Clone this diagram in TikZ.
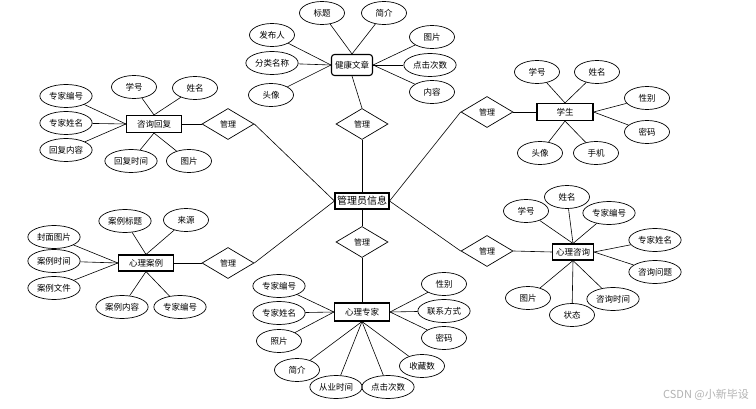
\documentclass[tikz,border=0pt]{standalone}
\usepackage{fontspec}
\setmainfont{Noto Sans CJK SC}
\usepackage{tikz}
\usetikzlibrary{shapes.geometric}

\tikzset{
  attr/.style={shape=ellipse,draw=black,line width=0.7pt,minimum width=45pt,minimum height=23pt,inner sep=1.5pt,font=\fontsize{8.5}{10}\selectfont},
  ent/.style={shape=rectangle,draw=black,line width=1.1pt,minimum width=55pt,minimum height=17pt,inner sep=1pt,font=\fontsize{8.5}{10}\selectfont},
  rel/.style={shape=diamond,draw=black,line width=0.7pt,minimum width=52pt,minimum height=31pt,inner sep=0pt,font=\fontsize{8}{9}\selectfont},
  link/.style={-,line width=0.6pt}
}

\begin{document}
\begin{tikzpicture}[x=1pt,y=-1pt]
    \useasboundingbox (0,0) rectangle (756,409);
    % centre
    \node[ent,minimum width=54pt,minimum height=16pt,font=\fontsize{10}{12}\selectfont] (admin) at (362,201) {管理员信息};
    \node[rel] (r1) at (362,124) {管理};
    \node[rel] (r2) at (362,242) {管理};
    \node[rel] (r3) at (228,124) {管理};
    \node[rel] (r4) at (487,112) {管理};
    \node[rel] (r5) at (228,263) {管理};
    \node[rel] (r6) at (487,251) {管理};
    % 健康文章
    \node[ent,rounded corners=3pt,minimum width=41pt,minimum height=21pt] (article) at (352,65) {健康文章};
    \node[attr] (a1) at (322,13) {标题};
    \node[attr] (a2) at (384,13) {简介};
    \node[attr] (a3) at (272,35) {发布人};
    \node[attr] (a4) at (272,63) {分类名称};
    \node[attr] (a5) at (271,95) {头像};
    \node[attr] (a6) at (432,37) {图片};
    \node[attr] (a7) at (430,65) {点击次数};
    \node[attr] (a8) at (432,92) {内容};
    % 咨询回复
    \node[ent] (reply) at (154,124) {咨询回复};
    \node[attr] (p1) at (134,87) {学号};
    \node[attr] (p2) at (195,88) {姓名};
    \node[attr] (p3) at (66,96) {专家编号};
    \node[attr] (p4) at (66,123) {专家姓名};
    \node[attr] (p5) at (66,150) {回复内容};
    \node[attr] (p6) at (131,161) {回复时间};
    \node[attr] (p7) at (189,161) {图片};
    % 学生
    \node[ent,minimum width=56pt] (student) at (565,112) {学生};
    \node[attr] (s1) at (537,72) {学号};
    \node[attr] (s2) at (597,72) {姓名};
    \node[attr] (s3) at (647,98) {性别};
    \node[attr] (s4) at (647,132) {密码};
    \node[attr] (s5) at (540,153) {头像};
    \node[attr] (s6) at (596,153) {手机};
    % 心理案例
    \node[ent,minimum height=16pt] (case) at (146,263) {心理案例};
    \node[attr] (c1) at (125,221) {案例标题};
    \node[attr] (c2) at (186,220) {来源};
    \node[attr] (c3) at (54,237) {封面图片};
    \node[attr] (c4) at (54,261) {案例时间};
    \node[attr] (c5) at (54,288) {案例文件};
    \node[attr] (c6) at (122,307) {案例内容};
    \node[attr] (c7) at (180,307) {专家编号};
    % 心理咨询
    \node[ent,minimum width=41pt,minimum height=16pt] (consult) at (573,252) {心理咨询};
    \node[attr] (q1) at (526,211) {学号};
    \node[attr] (q2) at (567,197) {姓名};
    \node[attr] (q3) at (609,213) {专家编号};
    \node[attr] (q4) at (655,240) {专家姓名};
    \node[attr] (q5) at (655,272) {咨询问题};
    \node[attr] (q6) at (613,299) {咨询时间};
    \node[attr] (q7) at (572,315) {状态};
    \node[attr] (q8) at (528,298) {图片};
    % 心理专家
    \node[ent,minimum height=18pt] (expert) at (362,312) {心理专家};
    \node[attr] (e1) at (279,286) {专家编号};
    \node[attr] (e2) at (279,313) {专家姓名};
    \node[attr] (e3) at (279,341) {照片};
    \node[attr] (e4) at (297,370) {简介};
    \node[attr] (e5) at (336,387) {从业时间};
    \node[attr] (e6) at (388,387) {点击次数};
    \node[attr] (e7) at (422,366) {收藏数};
    \node[attr] (e8) at (444,284) {性别};
    \node[attr] (e9) at (444,311) {联系方式};
    \node[attr] (e10) at (444,338) {密码};
    \node[text=black!30,font=\fontsize{11}{13}\selectfont] (mark) at (706,395) {CSDN @小新毕设};
    % 连线
    \path [link](admin.north) edge (r1.south);
    \path [link](admin.south) edge (r2.north);
    \path [link](admin.west) edge (r3.east);
    \path [link](admin.west) edge (r5.east);
    \path [link](admin.east) edge (r4.west);
    \path [link](admin.east) edge (r6.west);
    \path [link](r1.north) edge (article.south);
    \path [link](r2.south) edge (expert.north);
    \path [link](r3.west) edge (reply.east);
    \path [link](r4.east) edge (student.west);
    \path [link](r5.west) edge (case.east);
    \path [link](r6.east) edge (consult.west);
    \path [link](article.north) edge (a1) edge (a2);
    \path [link](article.west) edge (a3) edge (a4) edge (a5);
    \path [link](article.east) edge (a6) edge (a7) edge (a8);
    \path [link](reply.north) edge (p1) edge (p2);
    \path [link](reply.west) edge (p3) edge (p4) edge (p5);
    \path [link](reply.south) edge (p6) edge (p7);
    \path [link](student.north) edge (s1) edge (s2);
    \path [link](student.east) edge (s3) edge (s4);
    \path [link](student.south) edge (s5) edge (s6);
    \path [link](case.north) edge (c1) edge (c2);
    \path [link](case.west) edge (c3) edge (c4) edge (c5);
    \path [link](case.south) edge (c6) edge (c7);
    \path [link](consult.north) edge (q1) edge (q2) edge (q3);
    \path [link](consult.east) edge (q4) edge (q5);
    \path [link](consult.south) edge (q6) edge (q7) edge (q8);
    \path [link](expert.west) edge (e1) edge (e2) edge (e3);
    \path [link](expert.south) edge (e4) edge (e5) edge (e6) edge (e7);
    \path [link](expert.east) edge (e8) edge (e9) edge (e10);
\end{tikzpicture}
\end{document}
